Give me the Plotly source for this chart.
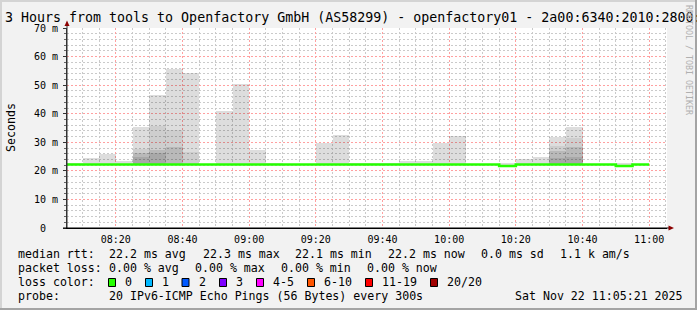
import pandas as pd
import plotly.graph_objects as go

# ---------------- data ----------------
interval_starts = [
    "2025-11-22 08:05", "2025-11-22 08:10", "2025-11-22 08:15", "2025-11-22 08:20",
    "2025-11-22 08:25", "2025-11-22 08:30", "2025-11-22 08:35", "2025-11-22 08:40",
    "2025-11-22 08:45", "2025-11-22 08:50", "2025-11-22 08:55", "2025-11-22 09:00",
    "2025-11-22 09:05", "2025-11-22 09:10", "2025-11-22 09:15", "2025-11-22 09:20",
    "2025-11-22 09:25", "2025-11-22 09:30", "2025-11-22 09:35", "2025-11-22 09:40",
    "2025-11-22 09:45", "2025-11-22 09:50", "2025-11-22 09:55", "2025-11-22 10:00",
    "2025-11-22 10:05", "2025-11-22 10:10", "2025-11-22 10:15", "2025-11-22 10:20",
    "2025-11-22 10:25", "2025-11-22 10:30", "2025-11-22 10:35", "2025-11-22 10:40",
    "2025-11-22 10:45", "2025-11-22 10:50", "2025-11-22 10:55", "2025-11-22 11:00",
]
# median rtt (ms)
median_ms = [
    22.2, 22.2, 22.2, 22.2, 22.2, 22.2, 22.2, 22.2, 22.2, 22.2, 22.2, 22.2,
    22.2, 22.2, 22.2, 22.2, 22.2, 22.2, 22.2, 22.2, 22.2, 22.2, 22.2, 22.2,
    22.2, 22.2, 21.7, 22.2, 22.2, 22.2, 22.2, 22.2, 22.2, 21.7, 22.2, None,
]
smoke_base_ms = 22.0
# smoke layers (top of each shade, ms), lightest (widest spread) first
smoke_l1 = [22.6, 24.4, 25.9, 23.6, 35.5, 46.5, 55.5, 54.4, None, 41.0, 50.4, 27.3,
            22.9, None, None, 29.9, 32.6, 22.8, 22.8, 22.8, 23.6, 23.6, 29.9, 32.3,
            None, None, 22.6, 24.2, 25.0, 32.0, 35.5, None, None, 22.9, None, None]
smoke_l2 = [None, None, None, None, 27.5, 35.8, 34.3, 26.7, None, None, None, None,
            None, None, None, None, None, None, None, None, None, None, None, None,
            None, None, None, None, None, 28.8, 31.6, None, None, None, None, None]
smoke_l3 = [None, None, None, None, 26.4, 27.3, 28.3, None, None, None, None, None,
            None, None, None, None, None, None, None, None, None, None, None, None,
            None, None, None, None, None, 27.0, 28.5, None, None, None, None, None]
smoke_l4 = [None, None, None, None, 25.0, 26.1, None, None, None, None, None, None,
            None, None, None, None, None, None, None, None, None, None, None, None,
            None, None, None, None, None, 24.4, 25.0, None, None, None, None, None]

y_tick_vals = [0, 10, 20, 30, 40, 50, 60, 70]
y_tick_text = ["0\u00a0\u00a0", "10 m", "20 m", "30 m", "40 m", "50 m", "60 m", "70 m"]

title_text = "3 Hours from tools to Openfactory GmbH (AS58299) - openfactory01 - 2a00:6340:2010:2800:"
rtt_items = ["22.2 ms avg", "22.3 ms max", "22.1 ms min", "22.2 ms now", "0.0 ms sd", "1.1 k am/s"]
loss_items = ["0.00 % avg", "0.00 % max", "0.00 % min", "0.00 % now"]
loss_labels = ["0", "1", "2", "3", "4-5", "6-10", "11-19", "20/20"]
loss_colors = ["#26ff00", "#00b8ff", "#0059ff", "#7e00ff", "#ff00ff", "#ff5500", "#ff0000", "#a00000"]
probe_text = "20 IPv6-ICMP Echo Pings (56 Bytes) every 300s"
stamp_text = "Sat Nov 22 11:05:21 2025"

range_start = "2025-11-22 08:05:21"
range_end = "2025-11-22 11:05:21"

# ---------------- layout constants (pixels) ----------------
W, H = 697, 310
L, R, T, B = 67, 30, 28, 82
PW, PH = W - L - R, H - T - B
FONT = "DejaVu Sans Mono"


def px(x):
    return (x - L) / PW


def py(y):
    return (H - B - y) / PH


starts = pd.to_datetime(pd.Series(interval_starts))
step = pd.Timedelta(minutes=5)
mids = starts + step / 2

fig = go.Figure()

shades = [
    (smoke_l1, "rgba(0,0,0,0.135)"),
    (smoke_l2, "rgba(0,0,0,0.065)"),
    (smoke_l3, "rgba(0,0,0,0.10)"),
    (smoke_l4, "rgba(0,0,0,0.09)"),
]
for layer, col in shades:
    ys = [None if v is None else v - smoke_base_ms for v in layer]
    fig.add_trace(go.Bar(
        x=mids, y=ys, base=smoke_base_ms, width=step.total_seconds() * 1000,
        marker=dict(color=col, line=dict(width=0)), showlegend=False, hoverinfo="skip",
    ))

# median line (step)
mx, my = [], []
for t, v in zip(starts, median_ms):
    if v is not None:
        mx.append(t)
        my.append(v)
mx.append(mx[-1] + step)
my.append(my[-1])
fig.add_trace(go.Scatter(x=mx, y=my, mode="lines", line=dict(color="#26ff00", width=2.6, shape="hv"),
                         showlegend=False, hoverinfo="skip"))

MINOR_GRID = "#cacaca"
MAJOR_GRID = "#ffa0a0"
DASH = "2px,2px"

fig.update_layout(
    width=W, height=H, margin=dict(l=L, r=R, t=T, b=B, pad=0),
    paper_bgcolor="#f2f2f2", plot_bgcolor="#ffffff",
    barmode="overlay", bargap=0,
    font=dict(family=FONT, size=10, color="#000000"),
    showlegend=False,
)
fig.update_layout(xaxis=dict(
    range=[range_start, range_end], type="date",
    tick0="2025-11-22 08:20", dtick=20 * 60 * 1000, tickformat="%H:%M",
    showgrid=True, gridcolor=MAJOR_GRID, griddash=DASH, gridwidth=1,
    minor=dict(tick0="2025-11-22 08:05", dtick=5 * 60 * 1000, showgrid=True,
               gridcolor=MINOR_GRID, griddash=DASH, gridwidth=1),
    showline=True, linecolor="#000000", linewidth=1, zeroline=False,
    ticks="", tickfont=dict(family=FONT, size=10, color="#000000"),
    ticklabelstandoff=2, fixedrange=True,
))
fig.update_layout(yaxis=dict(
    range=[0, 70], tickvals=y_tick_vals, ticktext=y_tick_text,
    showgrid=True, gridcolor=MAJOR_GRID, griddash=DASH, gridwidth=1,
    minor=dict(dtick=2, showgrid=True, gridcolor=MINOR_GRID, griddash=DASH, gridwidth=1,
               ticks="outside", ticklen=2, tickcolor="#666666"),
    showline=True, linecolor="#333333", linewidth=1, zeroline=False,
    ticks="outside", ticklen=3, tickcolor="#333333",
    tickfont=dict(family=FONT, size=10, color="#000000"), ticklabelstandoff=3,
    fixedrange=True,
))

shapes = []
# axis extensions and arrows
shapes.append(dict(type="line", xref="paper", yref="paper", x0=px(67), x1=px(67), y0=py(228), y1=py(24),
                   line=dict(color="#333333", width=1)))
shapes.append(dict(type="path", xref="paper", yref="paper",
                   path=f"M {px(64.5)} {py(26)} L {px(69.5)} {py(26)} L {px(67)} {py(20.5)} Z",
                   fillcolor="#8b0000", line=dict(width=0)))
shapes.append(dict(type="line", xref="paper", yref="paper", x0=px(63), x1=px(670), y0=py(228), y1=py(228),
                   line=dict(color="#000000", width=1)))
shapes.append(dict(type="path", xref="paper", yref="paper",
                   path=f"M {px(668.5)} {py(225.5)} L {px(668.5)} {py(230.5)} L {px(674)} {py(228)} Z",
                   fillcolor="#8b0000", line=dict(width=0)))
# frame
shapes.append(dict(type="rect", xref="paper", yref="paper", x0=px(0), x1=px(2), y0=py(0), y1=py(H),
                   fillcolor="#d4d4d4", line=dict(width=0)))
shapes.append(dict(type="rect", xref="paper", yref="paper", x0=px(0), x1=px(W), y0=py(0), y1=py(2),
                   fillcolor="#d4d4d4", line=dict(width=0)))
shapes.append(dict(type="rect", xref="paper", yref="paper", x0=px(W - 2), x1=px(W), y0=py(0), y1=py(H),
                   fillcolor="#a4a4a4", line=dict(width=0)))
shapes.append(dict(type="rect", xref="paper", yref="paper", x0=px(0), x1=px(W), y0=py(H - 2), y1=py(H),
                   fillcolor="#a4a4a4", line=dict(width=0)))

annotations = []


def text(x, y, s, size=11.6, color="#000000", anchor="left", angle=0):
    annotations.append(dict(xref="paper", yref="paper", x=px(x), y=py(y), text=s, showarrow=False,
                            xanchor=anchor, yanchor="middle", textangle=angle,
                            font=dict(family=FONT, size=size, color=color)))


text(3, 17.5, title_text, size=13.3)
text(11, 128, "Seconds", size=11.6, anchor="center", angle=-90)
text(689, 60, "RRDTOOL / TOBI OETIKER", size=8.3, color="#b0b0b0", anchor="center", angle=90)

row1, row2, row3, row4 = 254, 268, 282, 296
text(16, row1, "median rtt:")
for xpos, s in zip([107, 200.7, 293, 386, 479.3, 558], rtt_items):
    text(xpos, row1, s)
text(16, row2, "packet loss:")
for xpos, s in zip([107, 193, 279.3, 365], loss_items):
    text(xpos, row2, s)
text(16, row3, "loss color:")
box_x = [108.5, 145.5, 182, 219.5, 256.5, 307.5, 365.5, 430.5]
for bx, lab, col in zip(box_x, loss_labels, loss_colors):
    shapes.append(dict(type="rect", xref="paper", yref="paper", x0=px(bx), x1=px(bx + 7), y0=py(row3 - 3.5),
                       y1=py(row3 + 4.5), fillcolor=col, line=dict(color="#000000", width=1)))
    text(bx + 14.5, row3, lab)
text(16, row4, "probe:")
text(107, row4, probe_text)
text(513.3, row4, stamp_text)

fig.update_layout(shapes=shapes, annotations=annotations)
fig.write_html("out.html")
